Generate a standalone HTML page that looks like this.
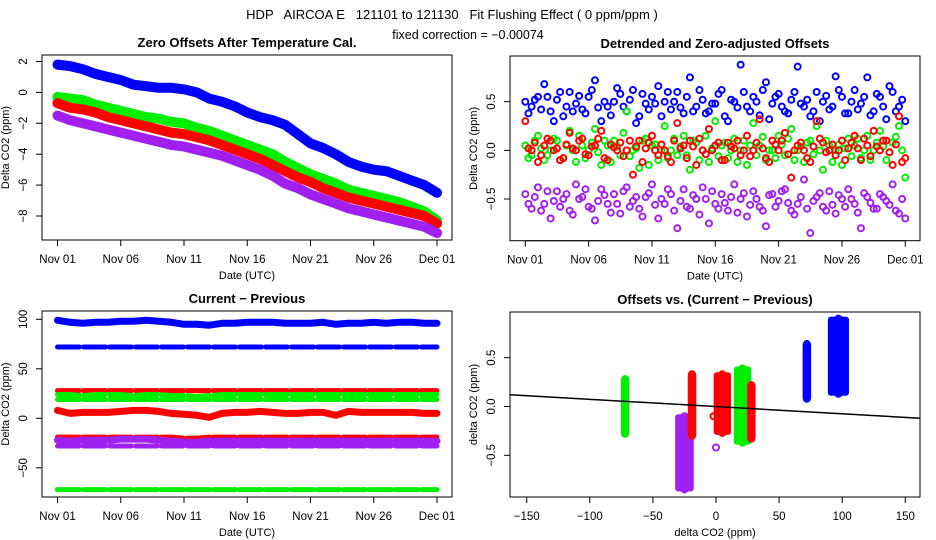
<!DOCTYPE html>
<html><head><meta charset="utf-8"><style>
body{margin:0;background:#fff;}
svg{display:block;font-family:"Liberation Sans",Arial,sans-serif;}
</style></head><body>
<svg id="chart" width="936" height="540" viewBox="0 0 936 540" xmlns="http://www.w3.org/2000/svg">
<text x="452" y="19" font-size="13" text-anchor="middle" style="white-space:pre">HDP   AIRCOA E   121101 to 121130   Fit Flushing Effect ( 0 ppm/ppm )</text>
<text x="468" y="39" font-size="12.5" text-anchor="middle">fixed correction = −0.00074</text>
</svg>
<script>
// ---------- data ----------
const dateTicks = ["Nov 01","Nov 06","Nov 11","Nov 16","Nov 21","Nov 26","Dec 01"];
const dateTickDays = [0,5,10,15,20,25,30];
// Panel 1: daily zero offsets (ppm)
const p1Blue = [1.8,1.7,1.5,1.2,1.0,0.8,0.5,0.4,0.3,0.3,0.2,0.0,-0.4,-0.6,-0.9,-1.3,-1.6,-1.8,-2.1,-2.7,-3.3,-3.6,-4.0,-4.5,-4.8,-5.0,-5.1,-5.4,-5.7,-6.0,-6.5];
const p1Green = [-0.3,-0.4,-0.5,-0.8,-1.0,-1.2,-1.4,-1.6,-1.7,-1.9,-2.0,-2.3,-2.5,-2.8,-3.1,-3.4,-3.7,-4.0,-4.5,-4.9,-5.3,-5.6,-5.9,-6.3,-6.5,-6.7,-6.9,-7.1,-7.4,-7.7,-8.3];
const p1Red = [-0.7,-1.0,-1.1,-1.3,-1.6,-1.8,-2.0,-2.2,-2.4,-2.6,-2.7,-2.9,-3.1,-3.4,-3.7,-4.0,-4.3,-4.7,-5.1,-5.5,-5.8,-6.2,-6.5,-6.8,-7.0,-7.2,-7.4,-7.6,-7.8,-8.0,-8.5];
const p1Purple = [-1.5,-1.8,-2.0,-2.2,-2.4,-2.6,-2.8,-3.0,-3.2,-3.4,-3.5,-3.7,-3.9,-4.1,-4.4,-4.7,-5.0,-5.4,-5.9,-6.2,-6.6,-6.9,-7.2,-7.5,-7.7,-7.9,-8.1,-8.3,-8.5,-8.7,-9.1];
const p1YTicks = [2,0,-2,-4,-6,-8];
// Panel 2: detrended offsets, every half day (set A) and offset quarter day (set B)
const p2Blue = [0.50,0.45,0.55,0.68,0.40,0.52,0.35,0.60,0.48,0.42,0.55,0.72,0.30,0.45,0.50,0.58,0.40,0.62,0.35,0.48,0.55,0.66,0.50,0.42,0.60,0.38,0.75,0.45,0.52,0.40,0.48,0.62,0.30,0.50,0.88,0.45,0.55,0.36,0.70,0.48,0.58,0.40,0.52,0.86,0.45,0.35,0.60,0.50,0.42,0.76,0.55,0.38,0.62,0.48,0.75,0.40,0.55,0.32,0.60,0.45,0.30];
const p2BlueB = [0.38,0.52,0.42,0.55,0.30,0.60,0.45,0.40,0.56,0.38,0.62,0.44,0.50,0.36,0.64,0.45,0.52,0.28,0.58,0.42,0.48,0.35,0.60,0.50,0.44,0.55,0.40,0.62,0.38,0.48,0.58,0.35,0.52,0.44,0.60,0.40,0.50,0.62,0.32,0.55,0.45,0.38,0.60,0.48,0.52,0.40,0.30,0.56,0.45,0.62,0.38,0.50,0.42,0.55,0.36,0.58,0.45,0.66,0.40,0.52];
const p2Green = [0.05,-0.05,0.15,-0.10,0.00,0.10,-0.08,0.20,-0.12,0.05,0.00,0.22,-0.15,0.05,0.10,-0.05,0.40,0.00,-0.18,0.12,0.05,-0.10,0.25,0.00,-0.05,0.15,-0.20,0.08,0.00,-0.12,0.30,0.05,-0.08,0.12,0.00,-0.15,0.28,0.05,-0.10,0.00,0.15,-0.05,0.22,0.00,-0.12,0.10,0.25,-0.20,0.05,0.00,-0.15,0.12,0.05,-0.08,0.15,0.00,0.20,-0.10,0.08,0.25,-0.28];
const p2GreenB = [-0.08,0.10,0.02,-0.05,0.12,-0.10,0.05,0.00,0.15,-0.08,0.08,-0.02,0.10,-0.12,0.04,0.18,-0.06,0.02,0.10,-0.15,0.06,0.00,-0.08,0.12,0.04,-0.05,0.10,-0.10,0.15,0.02,-0.06,0.08,0.00,-0.12,0.10,0.05,-0.05,0.14,0.00,-0.08,0.06,0.12,-0.10,0.04,0.08,-0.04,0.00,0.10,-0.12,0.06,0.02,-0.06,0.12,0.00,-0.10,0.08,0.04,-0.02,0.14,0.00];
const p2Red = [0.30,0.00,-0.12,0.05,0.10,0.02,-0.08,0.18,0.00,0.12,-0.05,0.05,0.20,-0.10,0.03,0.08,0.00,-0.25,0.10,0.02,0.15,-0.05,0.00,-0.12,0.28,0.05,0.10,-0.15,0.00,0.22,0.05,-0.10,0.08,0.02,-0.05,0.15,0.00,0.32,-0.08,0.10,0.00,0.18,-0.28,0.05,0.00,-0.12,0.30,0.08,0.00,-0.05,0.10,0.02,0.15,-0.10,0.05,0.20,0.00,0.10,-0.15,0.35,-0.08];
const p2RedB = [0.02,0.08,-0.05,0.12,0.00,-0.10,0.06,0.02,0.10,-0.04,0.04,0.12,-0.08,0.06,0.00,-0.06,0.10,0.04,-0.12,0.08,0.00,0.06,-0.06,0.10,0.02,-0.08,0.04,0.12,-0.04,0.00,0.08,-0.10,0.04,0.10,0.00,-0.06,0.08,0.02,-0.12,0.06,0.10,-0.04,0.00,0.08,-0.08,0.04,0.12,-0.02,0.06,0.00,-0.10,0.08,0.02,0.12,-0.06,0.04,0.10,-0.02,0.06,-0.12];
const p2Purple = [-0.45,-0.60,-0.38,-0.55,-0.70,-0.42,-0.50,-0.62,-0.35,-0.48,-0.58,-0.72,-0.40,-0.55,-0.45,-0.65,-0.38,-0.52,-0.60,-0.48,-0.35,-0.70,-0.55,-0.45,-0.80,-0.40,-0.60,-0.50,-0.38,-0.75,-0.55,-0.45,-0.62,-0.35,-0.50,-0.68,-0.42,-0.58,-0.78,-0.45,-0.52,-0.40,-0.62,-0.55,-0.30,-0.85,-0.48,-0.58,-0.42,-0.65,-0.50,-0.40,-0.55,-0.80,-0.48,-0.60,-0.45,-0.52,-0.35,-0.65,-0.70];
const p2PurpleB = [-0.55,-0.48,-0.62,-0.42,-0.52,-0.58,-0.45,-0.66,-0.50,-0.40,-0.60,-0.52,-0.46,-0.64,-0.55,-0.42,-0.58,-0.48,-0.68,-0.44,-0.56,-0.50,-0.40,-0.62,-0.52,-0.58,-0.46,-0.66,-0.50,-0.42,-0.60,-0.54,-0.48,-0.64,-0.44,-0.56,-0.50,-0.62,-0.46,-0.58,-0.42,-0.54,-0.66,-0.48,-0.60,-0.52,-0.44,-0.62,-0.56,-0.46,-0.58,-0.50,-0.64,-0.44,-0.54,-0.60,-0.48,-0.56,-0.62,-0.50];
const p2YTicks = [0.5,0.0,-0.5];
const p2YLabels = ["0.5","0.0","-0.5"];
// Panel 3: current - previous, daily
const p3BlueDense = [99,97,96,97,97,98,98,99,98,97,95,95,94,96,96,97,97,97,96,96,96,97,95,96,96,97,96,97,97,96,96];
const p3BlueSparse = [72,72,72,72,72,72,72,72,72,72,72,72,72,72,72,72,72,72,72,72,72,72,72,72,72,72,72,72,72,72,72];
const p3RedHigh = [28,28,28,28,28,28,28,28,28,28,28,28,28,28,28,28,28,28,28,28,28,28,28,28,28,28,28,28,28,28,28];
const p3GreenMid = [24,24,23,24,24,24,23,24,24,23,23,22,23,24,24,24,24,24,24,24,24,24,24,24,24,24,24,24,24,24,24];
const p3GreenLow = [19,19,19,19,19,19,19,19,19,19,19,19,19,19,19,19,19,19,19,19,19,19,19,19,19,19,19,19,19,19,19];
const p3RedDense = [8,5,6,6,6,7,8,8,7,5,4,3,1,5,6,6,7,6,5,5,6,6,3,7,6,6,6,6,6,5,5];
const p3RedLow = [-19,-19,-19,-19,-19,-19,-19,-19,-19,-19,-20,-20,-19,-19,-19,-19,-19,-19,-19,-19,-19,-19,-19,-19,-19,-19,-19,-19,-19,-19,-19];
const p3PurpleDense = [-22,-23,-22,-22,-22,-21,-21,-21,-22,-23,-24,-24,-23,-23,-23,-23,-23,-23,-23,-23,-23,-23,-23,-23,-23,-23,-23,-23,-23,-23,-23];
const p3PurpleLow = [-28,-28,-28,-28,-28,-28,-28,-28,-28,-28,-28,-28,-28,-28,-28,-28,-28,-28,-28,-28,-28,-28,-28,-28,-28,-28,-28,-28,-28,-28,-28];
const p3GreenBottom = [-72,-72,-72,-72,-72,-72,-72,-72,-72,-72,-72,-72,-72,-72,-72,-72,-72,-72,-72,-72,-72,-72,-72,-72,-72,-72,-72,-72,-72,-72,-72];
const p3YTicks = [100,50,0,-50];
// Panel 4: clusters
const p4ClusterX = [-72,-25,-19,5,21,28,72,97];
const p4ClusterXWidth = [2,10,2,9,9,2,2,12];
const p4ClusterLo = [-0.28,-0.85,-0.30,-0.27,-0.37,-0.33,0.08,0.13];
const p4ClusterHi = [0.28,-0.10,0.33,0.33,0.39,0.22,0.64,0.90];
const p4ClusterColor = ["green","purple","red","red","green","red","blue","blue"];
const p4Outliers = [[0,-0.42,"purple"],[-27,-0.37,"purple"],[-2,-0.10,"red"],[5,-0.27,"red"]];
const p4Slope = -0.00074;
const p4Intercept = 0.0;
const p4XTicks = [-150,-100,-50,0,50,100,150];
const p4YTicks = [0.5,0.0,-0.5];
const p4YLabels = ["0.5","0.0","-0.5"];

const COLORS = {blue:"#0000ff",green:"#00ee00",red:"#ff0000",purple:"#a020f0"};
const NS = "http://www.w3.org/2000/svg";
const svg = document.getElementById("chart");
function mk(tag, attrs, parent){const e=document.createElementNS(NS,tag);for(const k in attrs)e.setAttribute(k,attrs[k]);(parent||svg).appendChild(e);return e;}
function lin(d0,d1,r0,r1){return v=>r0+(v-d0)*(r1-r0)/(d1-d0);}

function panel(name, box, xs, ys, xTicks, xLabels, yTicks, yLabels, title, xlab, ylab){
  const g = mk("g",{});
  
  
  const t = mk("text",{x:(box.x0+box.x1)/2,y:box.y0-8,"font-size":13,"font-weight":"bold","text-anchor":"middle"},g);
  t.textContent = title;
  
  
  const ax = mk("g",{},g);
  
  
  mk("line",{x1:xs(xTicks[0]),x2:xs(xTicks[xTicks.length-1]),y1:box.y1,y2:box.y1,stroke:"#000"},ax);
  xTicks.forEach((v,i)=>{
    mk("line",{x1:xs(v),x2:xs(v),y1:box.y1,y2:box.y1+6,stroke:"#000"},ax);
    const l = mk("text",{x:xs(v),y:box.y1+23,"font-size":11.5,"text-anchor":"middle"},ax);
    l.textContent = xLabels[i];
    
    
  });
  const xl = mk("text",{x:(box.x0+box.x1)/2,y:box.y1+39,"font-size":11,"text-anchor":"middle"},g);
  xl.textContent = xlab;
  
  
  const ay = mk("g",{},g);
  
  
  mk("line",{x1:box.x0,x2:box.x0,y1:ys(yTicks[0]),y2:ys(yTicks[yTicks.length-1]),stroke:"#000"},ay);
  yTicks.forEach((v,i)=>{
    mk("line",{x1:box.x0-6,x2:box.x0,y1:ys(v),y2:ys(v),stroke:"#000"},ay);
    const yy=ys(v), xx=box.x0-15;
    const l = mk("text",{x:xx,y:yy,"font-size":11.5,"text-anchor":"middle",transform:`rotate(-90 ${xx} ${yy})`},ay);
    l.textContent = yLabels[i].replace("-","−");
    
    
  });
  const yx = box.x0-33, yy=(box.y0+box.y1)/2;
  const yl = mk("text",{x:yx,y:yy,"font-size":11,"text-anchor":"middle",transform:`rotate(-90 ${yx} ${yy})`},g);
  yl.textContent = ylab;
  
  
  const plot = mk("g",{},g);
  
  
  const fr = mk("rect",{x:box.x0,y:box.y0,width:box.x1-box.x0,height:box.y1-box.y0,fill:"none",stroke:"#000"},g);
  
  
  return plot;
}
function circles(parent, xs, ys, xsArr, vals, color, name, r, sw){
  vals.forEach((v,i)=>{
    const c = mk("circle",{cx:xs(xsArr[i]),cy:ys(v),r:r||2.8,fill:"none",stroke:COLORS[color],"stroke-width":sw||1.6},parent);
    
    
  });
}
function band(parent, xs, ys, days, vals, color, name, w, dash){
  const pts = vals.map((v,i)=>xs(days[i]).toFixed(1)+","+ys(v).toFixed(1)).join(" ");
  const a = {points:pts,fill:"none",stroke:COLORS[color],"stroke-width":w,"stroke-linejoin":"round","stroke-linecap":"round"};
  if(dash) a["stroke-dasharray"]=dash;
  const p = mk("polyline",a,parent);
  
  
}
const days31 = p1Blue.map((_,i)=>i);
const days61 = p2Blue.map((_,i)=>i*0.5);
const days60b = p2BlueB.map((_,i)=>i*0.5+0.25);

// Panel 1
{
  const box={x0:42,x1:452,y0:55,y1:240};
  const xs=lin(0,30,57.5,437), ys=lin(2,-8,61.5,216);
  const p = panel("panel-zero-offsets",box,xs,ys,dateTickDays,dateTicks,p1YTicks,p1YTicks.map(String),"Zero Offsets After Temperature Cal.","Date (UTC)","Delta CO2 (ppm)");
  [["blue",p1Blue],["green",p1Green],["red",p1Red],["purple",p1Purple]].forEach(([c,a])=>{
    band(p,xs,ys,days31,a,c,"series-"+c+"-band",10);
    circles(p,xs,ys,days31,a,c,"point-"+c,3,2);
  });
}
// Panel 2
{
  const box={x0:510,x1:920,y0:56,y1:240.7};
  const xs=lin(0,30,525.3,905.3), ys=lin(0.5,-0.5,101.7,199);
  const p = panel("panel-detrended-offsets",box,xs,ys,dateTickDays,dateTicks,p2YTicks,p2YLabels,"Detrended and Zero-adjusted Offsets","Date (UTC)","Delta CO2 (ppm)");
  [["blue",p2Blue,p2BlueB],["green",p2Green,p2GreenB],["red",p2Red,p2RedB],["purple",p2Purple,p2PurpleB]].forEach(([c,a,b])=>{
    circles(p,xs,ys,days61,a,c,"point-"+c,3,2);
    circles(p,xs,ys,days60b,b,c,"point-"+c,3,2);
  });
}
// Panel 3
{
  const box={x0:42,x1:452,y0:311,y1:497};
  const xs=lin(0,30,57.5,437), ys=lin(100,0,319.3,418.3);
  const p = panel("panel-current-minus-previous",box,xs,ys,dateTickDays,dateTicks,p3YTicks,p3YTicks.map(String),"Current − Previous","Date (UTC)","Delta CO2 (ppm)");
  const sparse=[["blue",p3BlueSparse],["red",p3RedHigh],["green",p3GreenMid],["green",p3GreenLow],["red",p3RedLow],["purple",p3PurpleLow],["green",p3GreenBottom]];
  sparse.forEach(([c,a])=>band(p,xs,ys,days31,a,c,"series-"+c+"-sparse",5,"22 4"));
  const dense=[["blue",p3BlueDense],["red",p3RedDense],["purple",p3PurpleDense]];
  dense.forEach(([c,a])=>{band(p,xs,ys,days31,a,c,"series-"+c+"-dense",7);});
}
// Panel 4
{
  const box={x0:510,x1:920,y0:312,y1:497};
  const xs=lin(-150,150,526.7,905.3), ys=lin(0.5,-0.5,357.7,455.3);
  const p = panel("panel-offsets-vs-diff",box,xs,ys,p4XTicks,p4XTicks.map(String).map(s=>s.replace("-","−")),p4YTicks,p4YLabels,"Offsets vs. (Current − Previous)","delta CO2 (ppm)","delta CO2 (ppm)");
  p4ClusterX.forEach((x,i)=>{
    const c=COLORS[p4ClusterColor[i]];
    const r = mk("rect",{x:xs(x-p4ClusterXWidth[i]/2)-3,y:ys(p4ClusterHi[i])-2,width:(xs(x+p4ClusterXWidth[i]/2)-xs(x-p4ClusterXWidth[i]/2))+6,height:ys(p4ClusterLo[i])-ys(p4ClusterHi[i])+4,fill:c,rx:3},p);
    
    
    circles(p,xs,ys,[x,x],[p4ClusterLo[i],p4ClusterHi[i]],p4ClusterColor[i],"cluster-end-point",3,2);
  });
  p4Outliers.forEach(o=>circles(p,xs,ys,[o[0]],[o[1]],o[2],"outlier-point",3,2));
  const fl = mk("line",{x1:box.x0,x2:box.x1,y1:ys(p4Intercept+p4Slope*(-162.5)),y2:ys(p4Intercept+p4Slope*162.5),stroke:"#000","stroke-width":1.5},p);
  
  
}
</script>
</body></html>
